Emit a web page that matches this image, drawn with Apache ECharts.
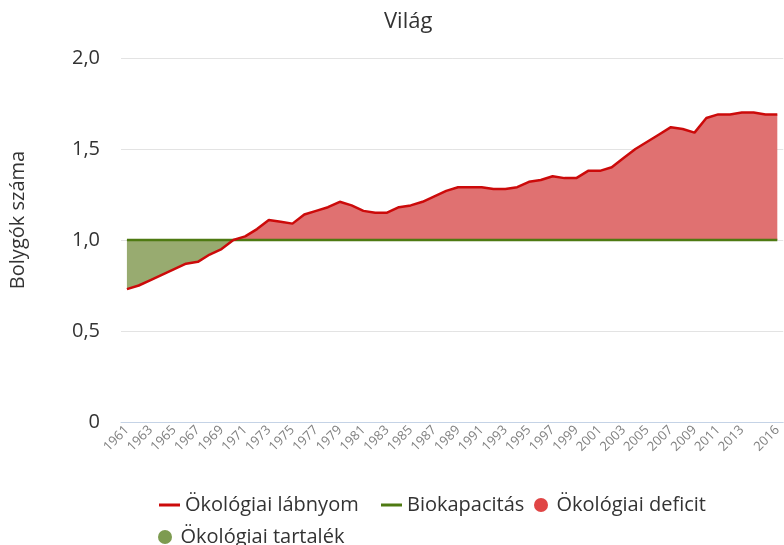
<!DOCTYPE html>
<html><head><meta charset="utf-8">
<script src="https://cdn.jsdelivr.net/npm/echarts@6/dist/echarts.min.js"></script>
<style>html,body{margin:0;padding:0;background:#fff}#c{width:784px;height:545px}</style>
</head><body><div id="c"></div>
<script>
const years = ['1961','1962','1963','1964','1965','1966','1967','1968','1969','1970',
'1971','1972','1973','1974','1975','1976','1977','1978','1979','1980',
'1981','1982','1983','1984','1985','1986','1987','1988','1989','1990',
'1991','1992','1993','1994','1995','1996','1997','1998','1999','2000',
'2001','2002','2003','2004','2005','2006','2007','2008','2009','2010',
'2011','2012','2013','2014','2015','2016'];
const footprint = [0.73,0.75,0.78,0.81,0.84,0.87,0.88,0.92,0.95,1.00,
1.02,1.06,1.11,1.10,1.09,1.14,1.16,1.18,1.21,1.19,
1.16,1.15,1.15,1.18,1.19,1.21,1.24,1.27,1.29,1.29,
1.29,1.28,1.28,1.29,1.32,1.33,1.35,1.34,1.34,1.38,
1.38,1.40,1.45,1.50,1.54,1.58,1.62,1.61,1.59,1.67,
1.69,1.69,1.70,1.70,1.69,1.69];
const biocapacity = [1,1,1,1,1,1,1,1,1,1,
1,1,1,1,1,1,1,1,1,1,
1,1,1,1,1,1,1,1,1,1,
1,1,1,1,1,1,1,1,1,1,
1,1,1,1,1,1,1,1,1,1,
1,1,1,1,1,1];
const yTickLabels = ['0','0,5','1,0','1,5','2,0'];
const shownYearLabels = ['1961','1963','1965','1967','1969','1971','1973','1975','1977','1979',
'1981','1983','1985','1987','1989','1991','1993','1995','1997','1999','2001','2003','2005',
'2007','2009','2011','2013','2016'];

const lower = footprint.map((v,i)=>Math.min(v, biocapacity[i]));
const deficit = footprint.map((v,i)=>Math.max(v - biocapacity[i], 0));
const reserve = footprint.map((v,i)=>biocapacity[i] - Math.min(v, biocapacity[i]));

const FF = '"Open Sans", "Noto Sans", sans-serif';
const showYear = (i) => shownYearLabels.indexOf(years[i]) >= 0;
const LINE_ICON = 'path://M0,0H21V3H0Z';
const legText = {fontSize: 20, color: '#333', fontFamily: FF};
const mkLegend = (name, icon, left, top) => ({
  left: left, top: top, itemWidth: 21, itemHeight: 14, padding: 0,
  textStyle: legText, data: [{name: name, icon: icon}]
});

const chart = echarts.init(document.getElementById('c'), null, {renderer:'canvas'});
chart.setOption({
  animation: false,
  textStyle: {fontFamily: FF},
  title: {text: 'Világ', left: 379, top: 6,
    textStyle: {fontSize: 22, fontWeight: 'normal', color: '#333', fontFamily: FF}},
  grid: {left: 119, right: 0, top: 58, bottom: 123, containLabel: false},
  legend: [
    mkLegend('Ökológiai lábnyom', LINE_ICON, 159, 495),
    mkLegend('Biokapacitás', LINE_ICON, 381, 495),
    mkLegend('Ökológiai deficit', 'circle', 534, 495),
    mkLegend('Ökológiai tartalék', 'circle', 158, 527)
  ],
  xAxis: {
    type: 'category', data: years, boundaryGap: true,
    axisLine: {lineStyle: {color: '#c5d3e6', width: 1}},
    axisTick: {alignWithLabel: true, interval: (i)=>showYear(i), length: 6, lineStyle: {color: '#c5d3e6'}},
    axisLabel: {interval: (i)=>showYear(i), rotate: 45, fontSize: 13, color: '#808080', margin: 6, fontFamily: FF}
  },
  yAxis: {
    type: 'value', min: 0, max: 2, interval: 0.5,
    name: 'Bolygók száma', nameLocation: 'middle', nameRotate: 90, nameGap: 93,
    nameTextStyle: {fontSize: 20, color: '#333', fontFamily: FF, padding: [0, 0, 0, 40]},
    axisLine: {show: false}, axisTick: {show: false},
    axisLabel: {fontSize: 20, color: '#333', margin: 21, fontFamily: FF,
      formatter: (v)=>yTickLabels[Math.round(v/0.5)]},
    splitLine: {lineStyle: {color: '#e3e3e3', width: 1}}
  },
  series: [
    {name: 'base1', type: 'line', stack: 'd', data: lower, symbol: 'none', silent: true,
      lineStyle: {width: 0}, itemStyle: {color: 'transparent'}},
    {name: 'Ökológiai deficit', type: 'line', stack: 'd', data: deficit, symbol: 'none',
      lineStyle: {width: 0}, itemStyle: {color: '#e04545'},
      areaStyle: {color: '#e07171', opacity: 1}},
    {name: 'base2', type: 'line', stack: 'r', data: lower, symbol: 'none', silent: true,
      lineStyle: {width: 0}, itemStyle: {color: 'transparent'}},
    {name: 'Ökológiai tartalék', type: 'line', stack: 'r', data: reserve, symbol: 'none',
      lineStyle: {width: 0}, itemStyle: {color: '#7d9b50'},
      areaStyle: {color: '#98ab70', opacity: 1}},
    {name: 'Biokapacitás', type: 'line', data: biocapacity, symbol: 'none',
      lineStyle: {width: 2.5, color: '#4e7a12'}, itemStyle: {color: '#4e7a12'}},
    {name: 'Ökológiai lábnyom', type: 'line', data: footprint, symbol: 'none',
      lineStyle: {width: 2.5, color: '#cc0a0a'}, itemStyle: {color: '#cc0a0a'}}
  ]
});
</script></body></html>
